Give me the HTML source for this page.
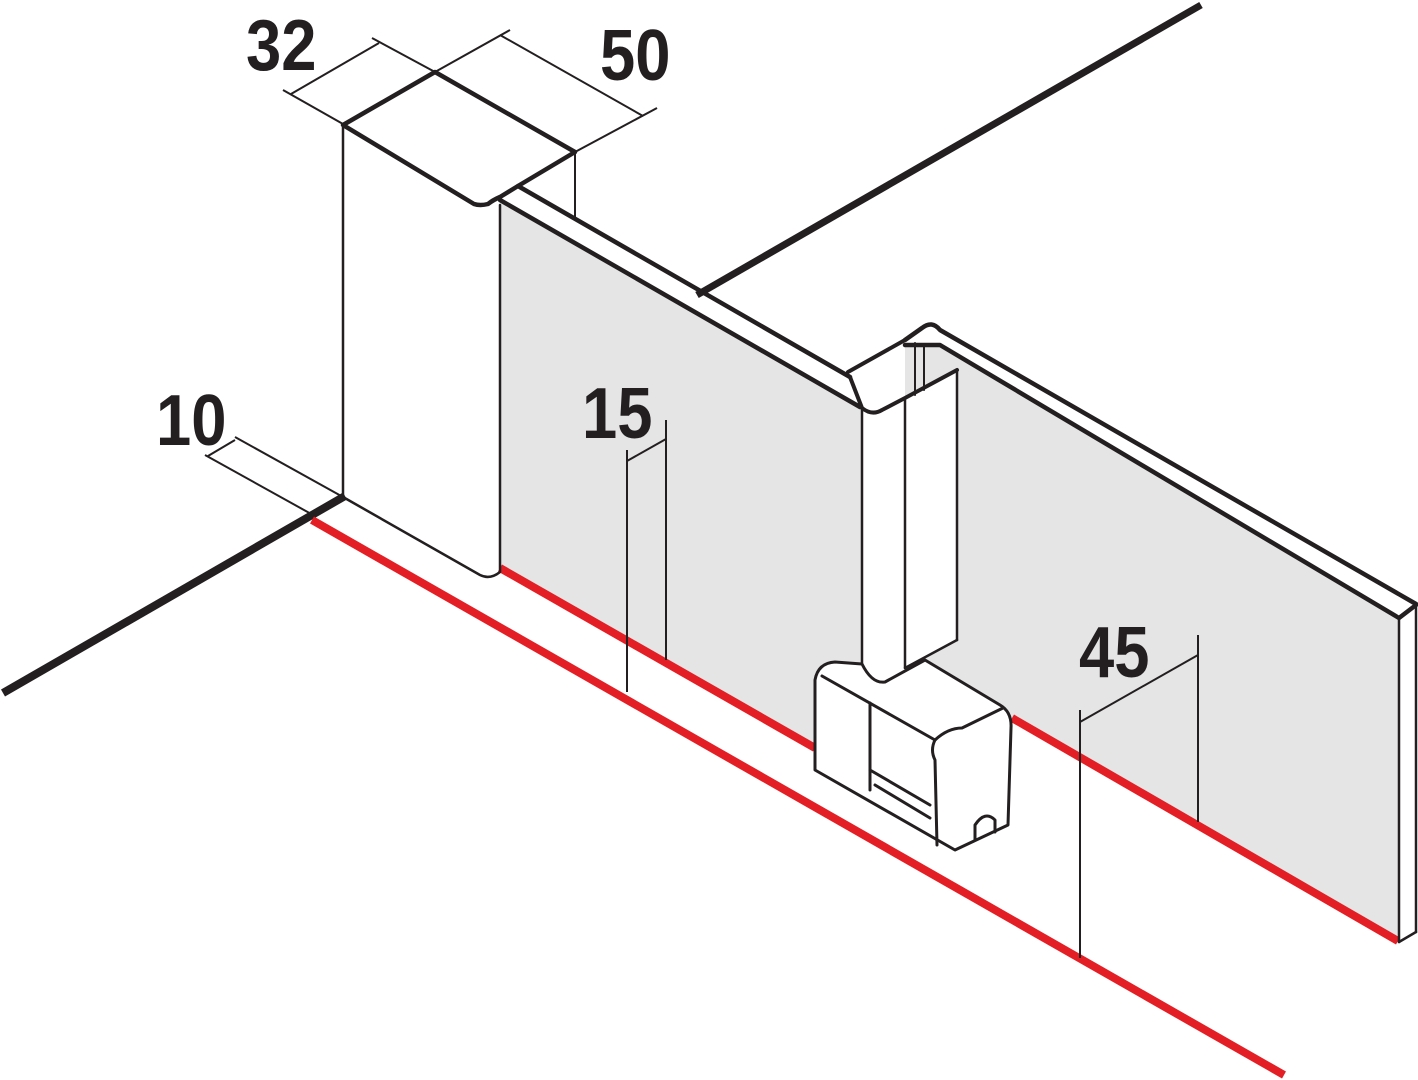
<!DOCTYPE html>
<html><head><meta charset="utf-8"><style>
html,body{margin:0;padding:0;background:#fff;}
svg{display:block;}
text{font-family:"Liberation Sans",sans-serif;font-weight:bold;fill:#231f20;}
</style></head><body>
<svg width="1418" height="1080" viewBox="0 0 1418 1080" xmlns="http://www.w3.org/2000/svg">
<line x1="697" y1="295" x2="1201" y2="5" stroke="#231f20" stroke-width="7"/>
<polygon points="500,200 862,408 862,775 500,568" fill="#e5e5e5"/>
<polygon points="905,345 940,345 1399,618 1399,942 905,656" fill="#e5e5e5"/>
<polygon points="862,410 905,398 957,370 957,640 905,668 862,680" fill="#fff"/>
<line x1="3" y1="693" x2="345" y2="496" stroke="#231f20" stroke-width="8"/>
<line x1="312" y1="520" x2="1284" y2="1075" stroke="#e31e24" stroke-width="8"/>
<line x1="500" y1="568" x2="815" y2="748" stroke="#e31e24" stroke-width="8"/>
<line x1="1012" y1="718" x2="1398" y2="941" stroke="#e31e24" stroke-width="8"/>

<g fill="none" stroke="#231f20" stroke-linejoin="round" stroke-linecap="round">
<line x1="343" y1="125" x2="343" y2="497" stroke-width="2.5"/>
<path d="M343,497 L480,575 Q490,580 500,572 L500,205" stroke-width="2.5"/>
<path d="M343,125 L435,72 L575,152 L518,186 L500,197 Q493,200 488,204 Q480,206 474,204 Z" stroke-width="4.5"/>
<line x1="575" y1="152" x2="575" y2="218" stroke-width="2"/>
<line x1="500" y1="200" x2="860" y2="407" stroke-width="4.5"/>
<line x1="518" y1="186" x2="850" y2="377" stroke-width="4.5"/>
<path d="M848,372 L905,340 M850,377 L862,408 Q872,416 882,410 L905,398 L957,370" stroke-width="4"/>
<line x1="862" y1="410" x2="862" y2="680" stroke-width="2.5"/>
<line x1="905" y1="398" x2="905" y2="668" stroke-width="2.5"/>
<line x1="957" y1="370" x2="957" y2="640" stroke-width="2.5"/>
<line x1="905" y1="668" x2="957" y2="640" stroke-width="2.5"/>
<line x1="915" y1="343" x2="915" y2="395" stroke-width="2"/>
<line x1="924" y1="345" x2="924" y2="390" stroke-width="2"/>
<path d="M905,340 L922,328 Q932,320 940,330 L1416,604" stroke-width="4.5"/>
<path d="M905,345 L940,345 L1399,618 L1416,605" stroke-width="4.5"/>
<line x1="1399" y1="618" x2="1399" y2="942" stroke-width="2.5"/>
<line x1="1416" y1="605" x2="1416" y2="932" stroke-width="2.5"/>
<line x1="1399" y1="942" x2="1416" y2="932" stroke-width="2.5"/>
<g stroke-width="3">
<path d="M815,680 Q818,663 835,662 L862,664 Q872,684 885,682 L925,660 L1000,705 Q1012,712 1011,728 L1008,825 L955,850 L815,770 Z" fill="#fff"/>
<path d="M822,676 L935,740"/>
<path d="M935,740 Q948,728 962,728 L1003,708"/>
<path d="M870,703 L870,790"/>
<path d="M935,740 Q930,750 935,760 L937,845"/>
<path d="M870,770 L930,805 M875,785 L930,818"/>
<path d="M975,840 L975,825 Q985,810 995,820 L995,832"/>
</g>
</g>

<g stroke="#231f20" stroke-width="2" fill="none">
<line x1="283" y1="90" x2="343" y2="124"/>
<line x1="372" y1="38" x2="435" y2="72"/>
<line x1="291" y1="94" x2="379" y2="43"/>
<line x1="435" y1="72" x2="510" y2="30"/>
<line x1="575" y1="152" x2="657" y2="108"/>
<line x1="500" y1="35" x2="643" y2="116"/>
<line x1="235" y1="437" x2="343" y2="497"/>
<line x1="205" y1="455" x2="313" y2="515"/>
<line x1="208" y1="456" x2="235" y2="440"/>
<line x1="627" y1="450" x2="627" y2="692"/>
<line x1="666" y1="420" x2="666" y2="660"/>
<line x1="627" y1="461" x2="666" y2="439"/>
<line x1="1080" y1="710" x2="1080" y2="958"/>
<line x1="1198" y1="635" x2="1198" y2="822"/>
<line x1="1080" y1="722" x2="1198" y2="655"/>
</g>

<g font-size="72">
<text x="246" y="70" transform="translate(246,70) scale(0.88,1) translate(-246,-70)">32</text>
<text x="600" y="80" transform="translate(600,80) scale(0.88,1) translate(-600,-80)">50</text>
<text x="156" y="445" transform="translate(156,445) scale(0.88,1) translate(-156,-445)">10</text>
<text x="582" y="438" transform="translate(582,438) scale(0.88,1) translate(-582,-438)">15</text>
<text x="1079" y="677" transform="translate(1079,677) scale(0.88,1) translate(-1079,-677)">45</text>
</g>
</svg>
</body></html>
